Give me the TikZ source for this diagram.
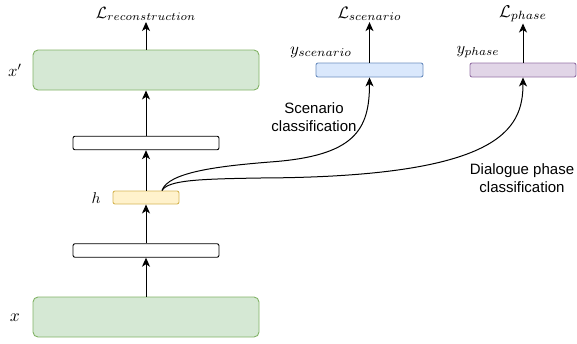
\documentclass[tikz,border=0pt]{standalone}
\usepackage{fontspec}
\setsansfont{Liberation Sans}
\usetikzlibrary{arrows.meta}
\definecolor{gfill}{HTML}{D5E8D4}\definecolor{gline}{HTML}{82B366}
\definecolor{yfill}{HTML}{FFF2CC}\definecolor{yline}{HTML}{D6B656}
\definecolor{bfill}{HTML}{DAE8FC}\definecolor{bline}{HTML}{6C8EBF}
\definecolor{pfill}{HTML}{E1D5E7}\definecolor{pline}{HTML}{9673A6}
\begin{document}
\begin{tikzpicture}[x=1pt,y=-1pt,
  boxstyle/.style={draw, line width=0.9pt, inner sep=0pt, rounded corners=2pt},
  greenbox/.style={boxstyle, fill=gfill, draw=gline, rounded corners=5pt, minimum width=226pt, minimum height=40pt},
  whitebar/.style={boxstyle, fill=white, draw=black, minimum width=146pt, minimum height=13.5pt},
  lbl/.style={inner sep=1pt},
  sidetext/.style={font=\sffamily\fontsize{15}{18.5}\selectfont, align=center, inner sep=0pt},
  arr/.style={-{Stealth[length=9pt,width=8pt,inset=2.5pt]}, line width=1pt}
]
\useasboundingbox (0,0) rectangle (577,343);
\node[greenbox] (x) at (146,317) {};
\node[whitebar] (b1) at (146,250.5) {};
\node[boxstyle, fill=yfill, draw=yline, minimum width=66pt, minimum height=13pt] (h) at (146,197.5) {};
\node[whitebar] (b2) at (146,143) {};
\node[greenbox] (xp) at (146,70) {};
\node[boxstyle, fill=bfill, draw=bline, minimum width=107pt, minimum height=14pt] (ys) at (369.5,70) {};
\node[boxstyle, fill=pfill, draw=pline, minimum width=106pt, minimum height=14pt] (yp) at (523,70) {};

\node[lbl] (lx) at (15,318) {\resizebox{10pt}{!}{$x$}};
\node[lbl] (lh) at (96,198) {\resizebox{9pt}{!}{$h$}};
\node[lbl] (lxp) at (15,70) {\resizebox{14pt}{!}{$x'$}};
\node[lbl] (lys) at (321,52) {\resizebox{62pt}{!}{$y_{scenario}$}};
\node[lbl] (lyp) at (478,52) {\resizebox{43pt}{!}{$y_{phase}$}};
\node[lbl] (Lrec) at (146,14) {\resizebox{100pt}{!}{$\mathcal{L}_{reconstruction}$}};
\node[lbl] (Lsc) at (369.5,14) {\resizebox{64pt}{!}{$\mathcal{L}_{scenario}$}};
\node[lbl] (Lph) at (523,14) {\resizebox{48pt}{!}{$\mathcal{L}_{phase}$}};

\node[sidetext] (tsc) at (314,117) {Scenario\\classification};
\node[sidetext] (tph) at (522,178) {Dialogue phase\\classification};

\draw[arr] (x.north) -- (b1.south);
\draw[arr] (b1.north) -- (h.south);
\draw[arr] (h.north) -- (b2.south);
\draw[arr] (b2.north) -- (xp.south);
\draw[arr] (xp.north) -- (Lrec.south);
\draw[arr] (ys.north) -- (Lsc.south);
\draw[arr] (yp.north) -- (Lph.south);

\coordinate (hs) at (162,190.5);
\draw[arr] (hs) .. controls (168,172) and (220,166) .. (270,162) .. controls (355,156) and (369.5,130) .. (ys.south);
\draw[arr] (hs) .. controls (168,180) and (200,179) .. (260,178) .. controls (500,177) and (523,130) .. (yp.south);
\end{tikzpicture}
\end{document}
